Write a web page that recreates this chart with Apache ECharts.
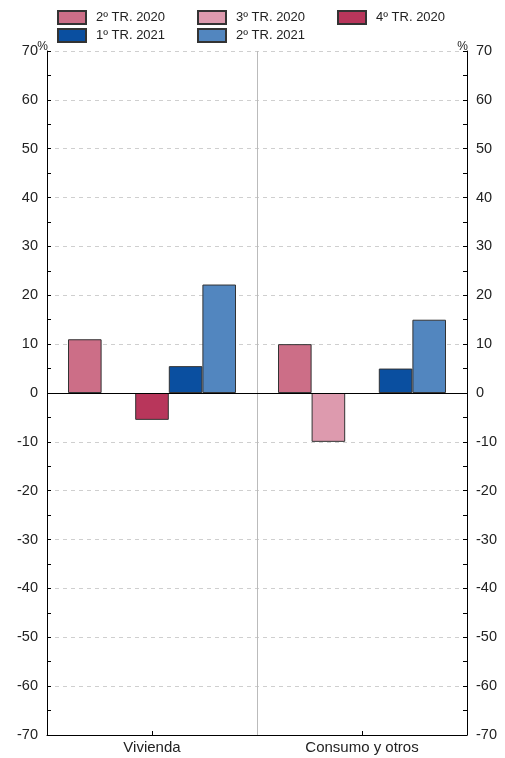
<!DOCTYPE html>
<html><head><meta charset="utf-8">
<script src="https://cdn.jsdelivr.net/npm/echarts@6/dist/echarts.min.js"></script>
<style>html,body{margin:0;padding:0;background:#fff}#c{width:505px;height:758px}</style>
</head><body><div id="c"></div>
<script>
var categories = ['Vivienda', 'Consumo y otros'];
var seriesNames = ['2º TR. 2020', '3º TR. 2020', '4º TR. 2020', '1º TR. 2021', '2º TR. 2021'];
var s2tr2020 = [11, 10];
var s3tr2020 = [null, -10];
var s4tr2020 = [-5.5, null];
var s1tr2021 = [5.5, 5];
var s2tr2021 = [22.2, 15];
var colors = ['#cc6e87', '#dd9aae', '#b8365b', '#0a4fa0', '#5286bf'];
var yTicks = [-70, -60, -50, -40, -30, -20, -10, 0, 10, 20, 30, 40, 50, 60, 70];

var values = [s2tr2020, s3tr2020, s4tr2020, s1tr2021, s2tr2021];
var font = 'Liberation Sans, Arial, sans-serif';
var legendPos = [[57, 10], [197, 10], [337, 10], [57, 28], [197, 28]];
var legends = seriesNames.map(function (n, i) {
  return {
    data: [{ name: n, icon: 'rect' }], left: legendPos[i][0], top: legendPos[i][1],
    itemWidth: 28, itemHeight: 13, itemGap: 0, padding: 0,
    textStyle: { fontFamily: font, fontSize: 13, color: '#222', padding: [0, 0, 0, 5] },
    selectedMode: false
  };
});
function yAxis(pos) {
  return {
    type: 'value', position: pos, min: yTicks[0], max: yTicks[yTicks.length - 1], interval: 10,
    name: '%', nameLocation: 'end', nameGap: -2, nameMoveOverlap: false,
    nameTextStyle: { fontFamily: font, fontSize: 12, color: '#222', align: 'right', padding: [0, -1, 0, 0] },
    axisLine: { show: true, lineStyle: { color: '#000', width: 1 } },
    axisTick: { show: true, inside: true, length: 4, lineStyle: { color: '#000' } },
    minorTick: { show: true, splitNumber: 2, length: 4, lineStyle: { color: '#000' } },
    axisLabel: { fontFamily: font, fontSize: 14.5, color: '#222', margin: 9 },
    splitLine: { show: pos === 'left', lineStyle: { color: '#cfcfcf', type: [4, 4] } }
  };
}
var series = seriesNames.map(function (n, i) {
  var s = {
    name: n, type: 'bar', data: values[i], barGap: '0%', barCategoryGap: '20%',
    itemStyle: { color: colors[i], borderColor: '#333', borderWidth: 1 },
    emphasis: { disabled: true }
  };
  if (i === 0) {
    s.markLine = { silent: true, symbol: 'none', label: { show: false },
      lineStyle: { color: '#000', width: 1, type: 'solid' }, data: [{ yAxis: 0 }] };
  }
  return s;
});
var chart = echarts.init(document.getElementById('c'));
chart.setOption({
  animation: false,
  color: colors,
  legend: legends,
  grid: { left: 47, right: 38, top: 51, bottom: 23 },
  xAxis: {
    type: 'category', data: categories,
    axisLine: { show: true, onZero: false, lineStyle: { color: '#000' } },
    axisTick: { show: true, inside: true, length: 4, alignWithLabel: true, lineStyle: { color: '#000' } },
    axisLabel: { fontFamily: font, fontSize: 15, color: '#222', margin: 5 },
    splitLine: { show: true, lineStyle: { color: '#bbb', width: 1 } }
  },
  yAxis: [yAxis('left'), yAxis('right')],
  series: series
});
</script></body></html>
